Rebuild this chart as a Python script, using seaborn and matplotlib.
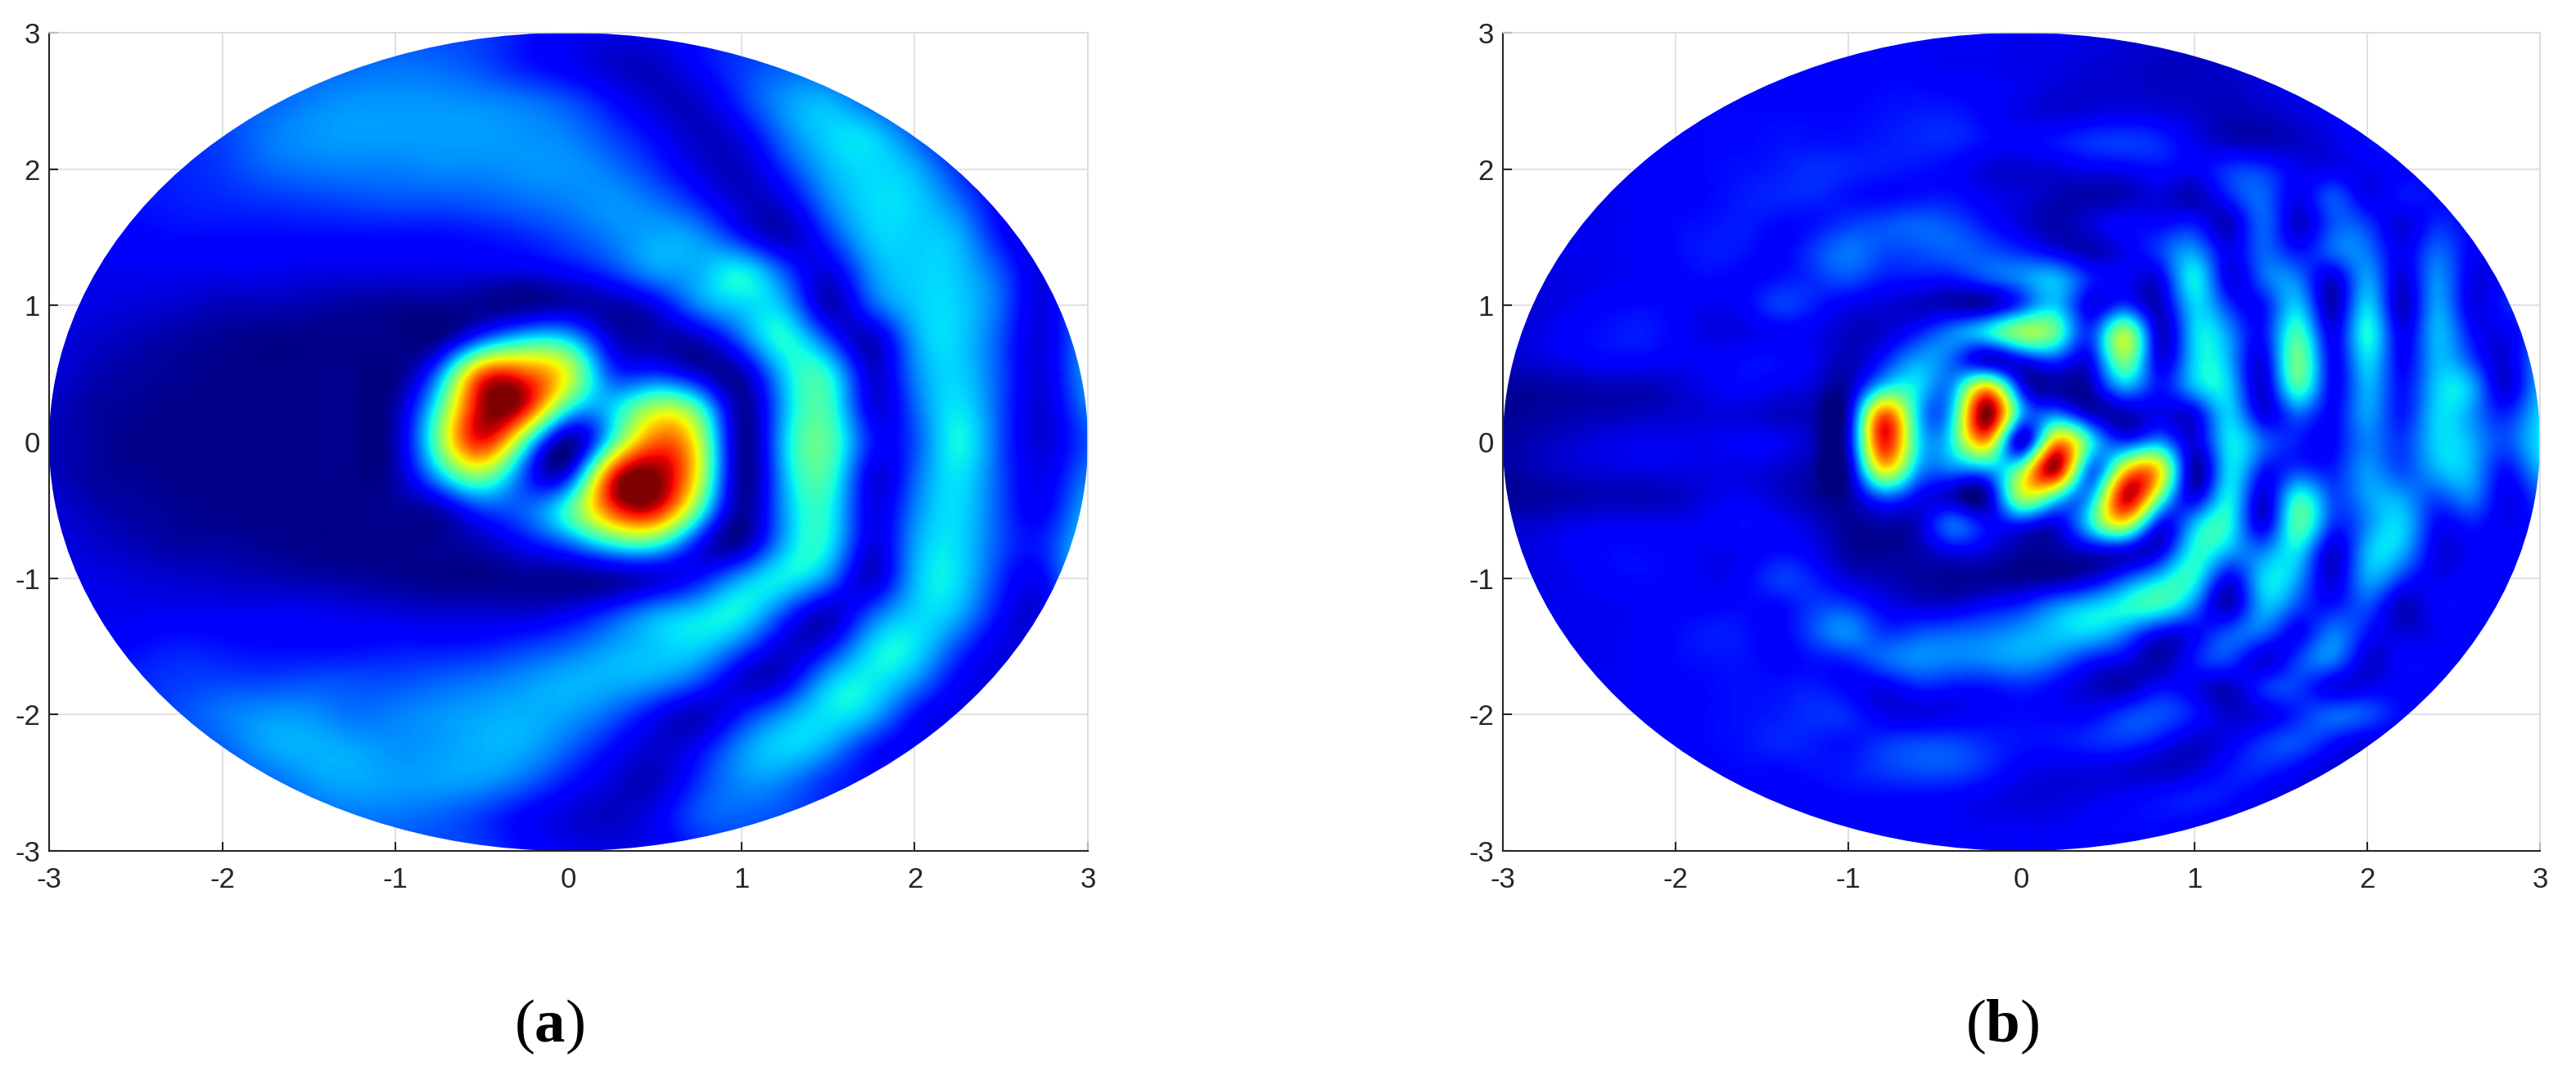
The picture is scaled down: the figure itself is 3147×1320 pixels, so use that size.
import numpy as np
import matplotlib
matplotlib.use("Agg")
import matplotlib.pyplot as plt
from matplotlib.patches import Ellipse
import seaborn as sns


## Data (jet scale 0..1)
tick_values = [-3, -2, -1, 0, 1, 2, 3]
panel_labels = ["a", "b"]

# panel (a): rows y = 3 .. -3, columns x = -3 .. 3, step 0.25
field_a = [
    [.2,.2,.2,.2,.2, .2,.2,.2,.2,.2, .18,.14,.11,.09,.1, .14,.17,.19,.2,.2, .2,.2,.2,.2,.2],
    [.2,.2,.2,.2,.2, .21,.22,.23,.24,.23, .2,.15,.11,.07,.06, .12,.18,.22,.21,.17, .18,.2,.2,.2,.2],
    [.18,.18,.18,.19,.2, .22,.25,.27,.27,.27, .26,.24,.2,.13,.07, .07,.17,.27,.3,.22, .16,.15,.16,.18,.18],
    [.16,.16,.16,.17,.19, .24,.27,.28,.28,.28, .28,.27,.25,.19,.12, .06,.1,.24,.33,.33, .22,.13,.12,.14,.16],
    [.15,.15,.15,.16,.18, .22,.24,.25,.25,.26, .26,.27,.27,.24,.17, .09,.06,.17,.3,.34, .3,.17,.1,.12,.16],
    [.12,.13,.14,.15,.16, .17,.18,.19,.2,.2, .21,.23,.25,.27,.24, .16,.07,.09,.25,.34, .33,.24,.11,.1,.15],
    [.1,.11,.12,.13,.13, .13,.13,.13,.13,.13, .14,.16,.2,.25,.29, .27,.15,.06,.17,.32, .33,.3,.14,.09,.15],
    [.1,.1,.1,.1,.1, .1,.09,.09,.09,.09, .09,.09,.12,.18,.27, .3,.36,.2,.09,.27, .33,.32,.2,.09,.2],
    [.1,.09,.08,.07,.05, .05,.04,.03,.02,.02, .02,.02,.05,.04,.1, .25,.33,.3,.06,.2, .32,.33,.22,.09,.28],
    [.09,.07,.05,.03,.02, .01,.01,.01,.01,.02, .22,.36,.33,.08,.04, .06,.22,.38,.2,.06, .28,.33,.2,.09,.28],
    [.08,.05,.03,.02,.01, .01,.01,.01,.01,.25, .8,.82,.6,.2,.17, .08,.05,.33,.38,.08, .25,.33,.2,.09,.28],
    [.06,.03,.02,.01,.01, .01,.01,.01,.04,.42, .95,.9,.4,.33,.55, .42,.03,.3,.42,.1, .22,.35,.2,.08,.24],
    [.05,.03,.01,.01,.01, .01,.01,.01,.05,.48, .88,.45,.03,.42,.8, .6,.03,.32,.45,.15, .2,.37,.2,.08,.2],
    [.06,.03,.02,.01,.01, .01,.01,.01,.04,.3, .5,.2,.15,.85,1.0, .62,.03,.3,.42,.1, .22,.35,.2,.1,.24],
    [.08,.05,.03,.02,.01, .01,.01,.01,.02,.05, .18,.22,.42,.82,.9, .45,.03,.28,.38,.1, .25,.34,.2,.12,.3],
    [.09,.07,.05,.03,.03, .02,.01,.01,.01,.02, .05,.12,.22,.38,.4, .14,.04,.3,.36,.09, .28,.34,.2,.16,.35],
    [.1,.09,.08,.07,.06, .05,.04,.03,.02,.01, .01,.02,.02,.04,.08, .14,.28,.36,.25,.07, .3,.34,.17,.13,.38],
    [.1,.1,.1,.1,.1, .1,.1,.09,.08,.07, .07,.07,.1,.17,.27, .33,.36,.2,.07,.2, .33,.3,.13,.1,.3],
    [.1,.11,.13,.15,.14, .13,.13,.13,.14,.14, .15,.18,.22,.28,.32, .33,.22,.08,.13,.33, .35,.2,.09,.12,.2],
    [.12,.14,.16,.18,.19, .19,.2,.2,.2,.22, .24,.27,.3,.3,.28, .2,.08,.1,.3,.36, .27,.12,.1,.15,.18],
    [.15,.16,.17,.2,.24, .27,.27,.24,.25,.27, .29,.3,.28,.22,.12, .06,.15,.27,.35,.3, .14,.1,.13,.16,.18],
    [.17,.18,.19,.2,.22, .28,.3,.29,.27,.28, .3,.29,.22,.13,.07, .12,.26,.33,.28,.15, .11,.13,.16,.18,.18],
    [.18,.19,.2,.2,.2, .22,.27,.29,.28,.28, .27,.22,.14,.08,.06, .17,.26,.25,.17,.14, .15,.17,.18,.18,.18],
    [.2,.2,.2,.2,.2, .2,.22,.24,.24,.22, .18,.12,.08,.06,.1, .2,.22,.2,.18,.18, .18,.18,.18,.18,.18],
    [.2,.2,.2,.2,.2, .2,.2,.2,.2,.2, .18,.13,.1,.09,.1, .15,.18,.19,.2,.2, .2,.2,.2,.2,.2],
]

# panel (b): rows y = 3 .. -3, columns x = -3 .. 3, step 0.2
field_b = [
    [.12,.12,.12,.12,.12, .12,.12,.12,.12,.12, .12,.12,.11,.11,.11, .10,.10,.09,.08,.07, .07,.08,.09,.10,.11, .11,.11,.11,.11,.11,.11],
    [.12,.12,.12,.12,.12, .12,.12,.12,.12,.12, .12,.12,.11,.10,.10, .09,.09,.08,.07,.06, .06,.07,.09,.10,.11, .12,.12,.12,.12,.12,.12],
    [.12,.12,.12,.12,.12, .12,.12,.12,.12,.12, .12,.13,.13,.12,.11, .10,.08,.07,.07,.06, .06,.06,.08,.10,.12, .13,.13,.12,.12,.12,.12],
    [.12,.12,.12,.12,.12, .12,.13,.13,.13,.13, .13,.14,.15,.15,.12, .09,.08,.09,.10,.09, .07,.05,.06,.08,.11, .14,.15,.14,.12,.12,.12],
    [.12,.12,.12,.12,.12, .12,.13,.13,.14,.14, .14,.15,.16,.16,.13, .12,.14,.17,.18,.16, .10,.06,.05,.06,.09, .13,.17,.18,.15,.12,.12],
    [.10,.10,.10,.11,.11, .12,.13,.14,.15,.17, .16,.15,.14,.12,.08, .07,.08,.10,.11,.13, .11,.17,.17,.10,.10, .10,.12,.14,.14,.13,.12],
    [.10,.10,.10,.10,.11, .12,.13,.15,.16,.16, .14,.13,.14,.14,.10, .08,.05,.04,.05,.08, .05,.15,.22,.10,.20, .10,.14,.13,.12,.12,.12],
    [.10,.10,.10,.10,.11, .13,.14,.15,.13,.14, .18,.20,.22,.20,.14, .08,.04,.08,.12,.12, .14,.06,.22,.07,.20, .18,.08,.16,.12,.12,.12],
    [.10,.10,.10,.10,.11, .13,.15,.14,.12,.18, .24,.20,.20,.22,.20, .16,.10,.05,.10,.18, .27,.10,.22,.14,.22, .24,.10,.22,.12,.12,.12],
    [.09,.09,.09,.10,.11, .12,.13,.12,.14,.17, .20,.15,.14,.14,.20, .26,.30,.15,.12,.10, .36,.10,.22,.24,.08, .28,.08,.26,.10,.12,.12],
    [.08,.08,.10,.12,.13, .12,.10,.12,.18,.15, .10,.08,.06,.05,.05, .20,.32,.10,.18,.06, .33,.18,.14,.32,.05, .33,.06,.28,.10,.15,.14],
    [.08,.09,.12,.14,.15, .12,.09,.09,.11,.10, .06,.07,.15,.25,.35, .52,.45,.18,.54,.07, .33,.27,.14,.42,.10, .38,.10,.30,.14,.10,.20],
    [.06,.08,.10,.12,.12, .11,.11,.13,.13,.10, .05,.15,.28,.22,.08, .12,.18,.12,.50,.10, .33,.30,.10,.48,.12, .34,.12,.30,.20,.08,.27],
    [.03,.03,.04,.05,.05, .07,.10,.12,.10,.07, .05,.35,.35,.28,.68, .14,.04,.05,.28,.14, .30,.33,.08,.42,.12, .30,.14,.32,.30,.08,.30],
    [.02,.03,.04,.05,.06, .07,.08,.08,.06,.04, .08,.80,.35,.35,1.0, .30,.25,.08,.05,.10, .10,.33,.10,.22,.12, .28,.15,.33,.28,.16,.33],
    [.03,.05,.07,.09,.10, .10,.10,.11,.10,.05, .10,.88,.38,.38,.72, .08,.72,.38,.18,.27, .08,.35,.22,.15,.12, .25,.18,.33,.30,.20,.35],
    [.03,.05,.07,.08,.09, .09,.09,.09,.07,.03, .05,.65,.30,.25,.30, .50,.95,.25,.65,.65, .04,.34,.15,.18,.15, .27,.20,.30,.30,.14,.30],
    [.02,.03,.04,.05,.05, .06,.09,.10,.07,.03, .03,.22,.12,.06,.05, .55,.42,.30,.92,.50, .10,.36,.08,.38,.20, .28,.28,.20,.25,.10,.20],
    [.06,.07,.09,.10,.10, .10,.11,.13,.11,.07, .02,.04,.06,.22,.12, .15,.10,.36,.62,.15, .30,.38,.10,.44,.18, .26,.33,.13,.15,.10,.14],
    [.08,.09,.11,.13,.13, .12,.10,.11,.13,.10, .03,.02,.04,.10,.08, .03,.03,.08,.10,.10, .38,.30,.25,.35,.08, .30,.30,.10,.11,.12,.12],
    [.09,.09,.10,.12,.13, .12,.10,.12,.18,.15, .08,.05,.03,.02,.02, .02,.03,.08,.20,.33, .38,.12,.33,.28,.08, .28,.18,.10,.12,.12,.12],
    [.10,.10,.10,.10,.11, .12,.12,.13,.13,.18, .18,.11,.08,.08,.12, .16,.25,.32,.38,.40, .25,.06,.30,.20,.14, .20,.06,.12,.12,.12,.12],
    [.10,.10,.10,.10,.11, .13,.15,.14,.12,.20, .26,.18,.20,.22,.24, .28,.32,.33,.25,.12, .12,.20,.22,.12,.24, .14,.08,.10,.12,.12,.12],
    [.10,.10,.10,.10,.11, .13,.14,.14,.12,.14, .16,.22,.26,.25,.26, .28,.24,.15,.10,.04, .14,.18,.08,.18,.24, .08,.12,.12,.12,.12,.12],
    [.11,.11,.11,.11,.11, .12,.13,.14,.14,.15, .12,.10,.15,.14,.14, .16,.12,.07,.05,.12, .10,.06,.16,.18,.10, .10,.12,.12,.12,.12,.12],
    [.12,.12,.12,.12,.12, .12,.13,.14,.15,.17, .16,.10,.09,.10,.12, .13,.12,.12,.18,.20, .14,.07,.09,.16,.22, .20,.13,.12,.12,.12,.12],
    [.12,.12,.12,.12,.12, .12,.13,.14,.16,.15, .14,.17,.19,.19,.16, .14,.14,.16,.17,.13, .07,.10,.17,.20,.14, .09,.11,.12,.12,.12,.12],
    [.12,.12,.12,.12,.12, .12,.12,.13,.13,.14, .15,.18,.20,.20,.16, .11,.09,.09,.08,.06, .08,.14,.16,.12,.08, .10,.12,.12,.12,.12,.12],
    [.12,.12,.12,.12,.12, .12,.12,.12,.12,.12, .13,.13,.13,.12,.10, .08,.08,.09,.11,.13, .15,.14,.10,.08,.09, .11,.12,.12,.12,.12,.12],
    [.12,.12,.12,.12,.12, .12,.12,.12,.12,.12, .12,.12,.12,.11,.10, .10,.10,.12,.13,.13, .12,.10,.09,.10,.11, .12,.12,.12,.12,.12,.12],
    [.12,.12,.12,.12,.12, .12,.12,.12,.12,.12, .12,.12,.12,.12,.11, .11,.11,.12,.12,.12, .12,.11,.11,.11,.12, .12,.12,.12,.12,.12,.12],
]


## Style
sns.set_theme(style="whitegrid")
plt.rcParams["font.family"] = ["Liberation Sans", "DejaVu Sans"]
plt.rcParams["mathtext.fontset"] = "custom"
plt.rcParams["mathtext.bf"] = "Liberation Serif:bold"
plt.rcParams["mathtext.rm"] = "Liberation Serif"
jet = matplotlib.colormaps["jet"]

W, H = 3147, 1320
fig = plt.figure(figsize=(W / 100, H / 100), dpi=100)


def draw_panel(field, label, left, right):
    ax = fig.add_axes([left / W, 1 - 1040 / H, (right - left) / W, 1000 / H])
    field = np.array(field)
    step = 6 / (field.shape[0] - 1)
    half = 3 + step / 2
    # spline36 goes through the read values, bicubic washes the peaks out
    im = ax.imshow(field, cmap=jet, vmin=0, vmax=1, aspect="auto", zorder=2,
                   extent=(-half, half, -half, half), interpolation="spline36")
    im.set_clip_path(Ellipse((0, 0), 6, 6, transform=ax.transData))

    ax.set_xlim(-3, 3)
    ax.set_ylim(-3, 3)
    ax.set_xticks(tick_values)
    ax.set_yticks(tick_values)
    ax.set_xticklabels([str(t) for t in tick_values])
    ax.set_yticklabels([str(t) for t in tick_values])
    ax.grid(True, color="#e2e2e2", linewidth=1.4, zorder=0)
    ax.set_axisbelow(True)
    ax.tick_params(axis="both", direction="in", length=8, width=1.5, color="#262626",
                   labelcolor="#262626", labelsize=25, bottom=True, left=True)
    ax.tick_params(axis="x", pad=14)
    ax.tick_params(axis="y", pad=8)
    for side in ["left", "bottom"]:
        ax.spines[side].set_color("#262626")
        ax.spines[side].set_linewidth(1.5)
    for side in ["top", "right"]:
        ax.spines[side].set_color("#d9d9d9")
        ax.spines[side].set_linewidth(1.2)

    fig.text((left + right) / 2 / W - 0.0075, 1 - 1255 / H, r"$\mathrm{(}\mathbf{%s}\mathrm{)}$" % label,
             fontsize=54, color="black", ha="center", va="center")


draw_panel(field_a, panel_labels[0], 60, 1329)
draw_panel(field_b, panel_labels[1], 1836, 3103)

plt.savefig("out.png", dpi=100)
